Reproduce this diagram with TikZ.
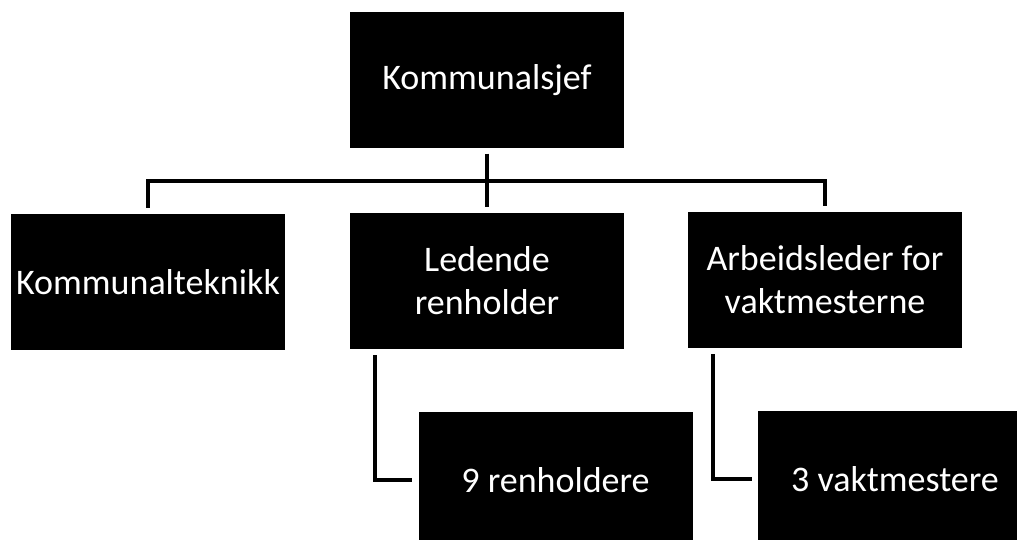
\documentclass[tikz,border=0pt]{standalone}
\usepackage{fontspec}
\setmainfont{Carlito}
\usepackage{tikz}
\usetikzlibrary{positioning,calc}

\begin{document}
\begin{tikzpicture}[x=1pt, y=-1pt,
    orgbox/.style={fill=black, text=white, minimum width=274pt, minimum height=136pt,
                   inner sep=1pt, align=center, font=\fontsize{36}{43}\selectfont},
    link/.style={line width=4.5pt, line join=miter}]
    \useasboundingbox (0,0) rectangle (1017,540);
    \fill[white] (0,0) rectangle (1017,540);
    \clip (0,0) rectangle (1017,540);

    % Top
    \node[orgbox] (sjef) at (487,80.5) {Kommunalsjef};

    % Second row
    \node[orgbox] (teknikk) at (148,282) {Kommunalteknikk};
    \node[orgbox] (leder) at (487,281) {Ledende\\renholder};
    \node[orgbox] (arbeid) at (825,280) {Arbeidsleder for\\vaktmesterne};

    % Third row
    \node[orgbox] (renhold) at (555.5,480) {9 renholdere};
    \node[orgbox] (vakt) at (895,479) {3 vaktmestere};

    % Connectors
    \coordinate (bus) at (487,181);
    \draw[link] ([yshift=6pt]teknikk.north) -- (teknikk.north |- bus)
        -- (arbeid.north |- bus) -- ([yshift=6pt]arbeid.north);
    \draw[link] ([yshift=-5pt]sjef.south) -- ([yshift=6pt]leder.north);
    \draw[link] ([xshift=-112pt,yshift=-6pt]leder.south) |- ([xshift=-6pt]renhold.west);
    \draw[link] ([xshift=-112pt,yshift=-6pt]arbeid.south) |- ([xshift=-6pt]vakt.west);
\end{tikzpicture}
\end{document}
